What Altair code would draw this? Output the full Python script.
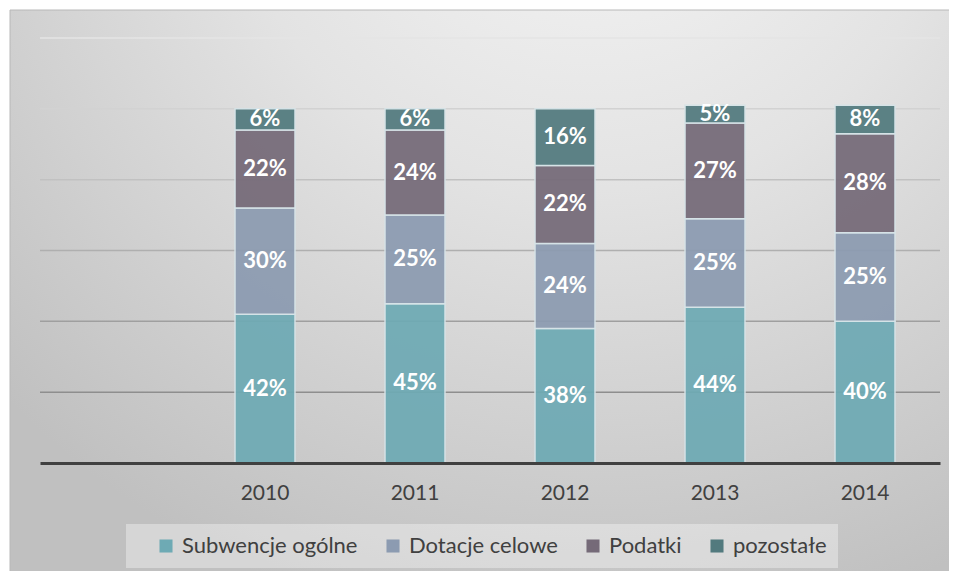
import altair as alt
import pandas as pd

# ---- data ----
years = ["2010", "2011", "2012", "2013", "2014"]
series = ["Subwencje ogólne", "Dotacje celowe", "Podatki", "pozostałe"]
subwencje = [42, 45, 38, 44, 40]
dotacje = [30, 25, 24, 25, 25]
podatki = [22, 24, 22, 27, 28]
pozostale = [6, 6, 16, 5, 8]
colors = ["#6eaab4", "#8c9bb1", "#756a78", "#527a7e"]
grid_values = [20, 40, 60, 80, 100, 120]
x_domain = [""] + years  # empty first slot as in the reference

rows = []
for i, yr in enumerate(years):
    for k, (s, vals) in enumerate(zip(series, [subwencje, dotacje, podatki, pozostale])):
        rows.append({"year": yr, "series": s, "order": k, "value": vals[i]})
df = pd.DataFrame(rows)
grid_df = pd.DataFrame({"g": grid_values})

FONT = "Lato"
y_scale = alt.Scale(domain=[0, 120], nice=False, zero=True)
x_scale = alt.Scale(domain=x_domain, paddingInner=0.6, paddingOuter=0.3)

gradient = alt.RadialGradient(
    gradient="radial",
    x1=0.6, y1=0.0, r1=0.0,
    x2=0.6, y2=0.0, r2=0.85,
    stops=[
        alt.GradientStop(offset=0.0, color="#f7f7f7"),
        alt.GradientStop(offset=0.45, color="#e3e3e3"),
        alt.GradientStop(offset=1.0, color="#c0c0c0"),
    ],
)

background = alt.Chart(pd.DataFrame({"a": [0]})).mark_rect(
    fill=gradient, stroke="#b8b8b8", strokeWidth=1
).encode(
    x=alt.value(-30), x2=alt.value(940), y=alt.value(-28), y2=alt.value(560)
)

grid = alt.Chart(grid_df).mark_rule(strokeWidth=1.5).encode(
    y=alt.Y("g:Q", scale=y_scale, axis=None),
    x=alt.value(0),
    x2=alt.value(900),
    color=alt.Color(
        "g:Q",
        scale=alt.Scale(domain=[20, 120], range=["#8e8e8e", "#e4e4e4"]),
        legend=None,
    ),
)

base = alt.Chart(df).transform_stack(
    stack="value", groupby=["year"], as_=["y0", "y1"],
    sort=[alt.SortField("order", order="ascending")],
).transform_calculate(mid="(datum.y0 + datum.y1) / 2", label="datum.value + '%'")

x_enc = alt.X(
    "year:N",
    scale=x_scale,
    sort=x_domain,
    axis=alt.Axis(
        title=None, labelFont=FONT, labelFontSize=21, labelColor="#404040",
        labelPadding=19, labelAngle=0, ticks=False, grid=False,
        domainColor="#404040", domainWidth=3, zindex=1,
    ),
)

bars = base.mark_bar(stroke="#d6e4e8", strokeWidth=1.5, opacity=0.93).encode(
    x=x_enc,
    y=alt.Y("y0:Q", scale=y_scale, axis=None),
    y2="y1:Q",
    color=alt.Color(
        "series:N",
        scale=alt.Scale(domain=series, range=colors),
        legend=alt.Legend(
            title=None, orient="none", direction="horizontal",
            legendX=86, legendY=486,
            labelFont=FONT, labelFontSize=22, labelColor="#404040",
            labelLimit=400,
            symbolType="square", symbolSize=170, symbolStrokeWidth=0,
            symbolOpacity=1, labelOffset=5, columnPadding=6,
            padding=11, fillColor="rgba(255,255,255,0.35)",
            symbolOffset=18,
        ),
    ),
)

labels = base.mark_text(
    font=FONT, fontSize=22, fontWeight="bold", color="white", baseline="middle"
).encode(
    x=alt.X("year:N", scale=x_scale, sort=x_domain),
    y=alt.Y("mid:Q", scale=y_scale, axis=None),
    text="label:N",
)

chart = alt.layer(background, grid, bars, labels).resolve_scale(
    color="independent"
).properties(
    width=900,
    height=425,
    autosize=alt.AutoSizeParams(type="none"),
    padding={"left": 32, "top": 30, "right": 9, "bottom": 108},
).configure_view(stroke=None)

chart.save("out.html", embed_options={"renderer": "svg", "actions": False})
